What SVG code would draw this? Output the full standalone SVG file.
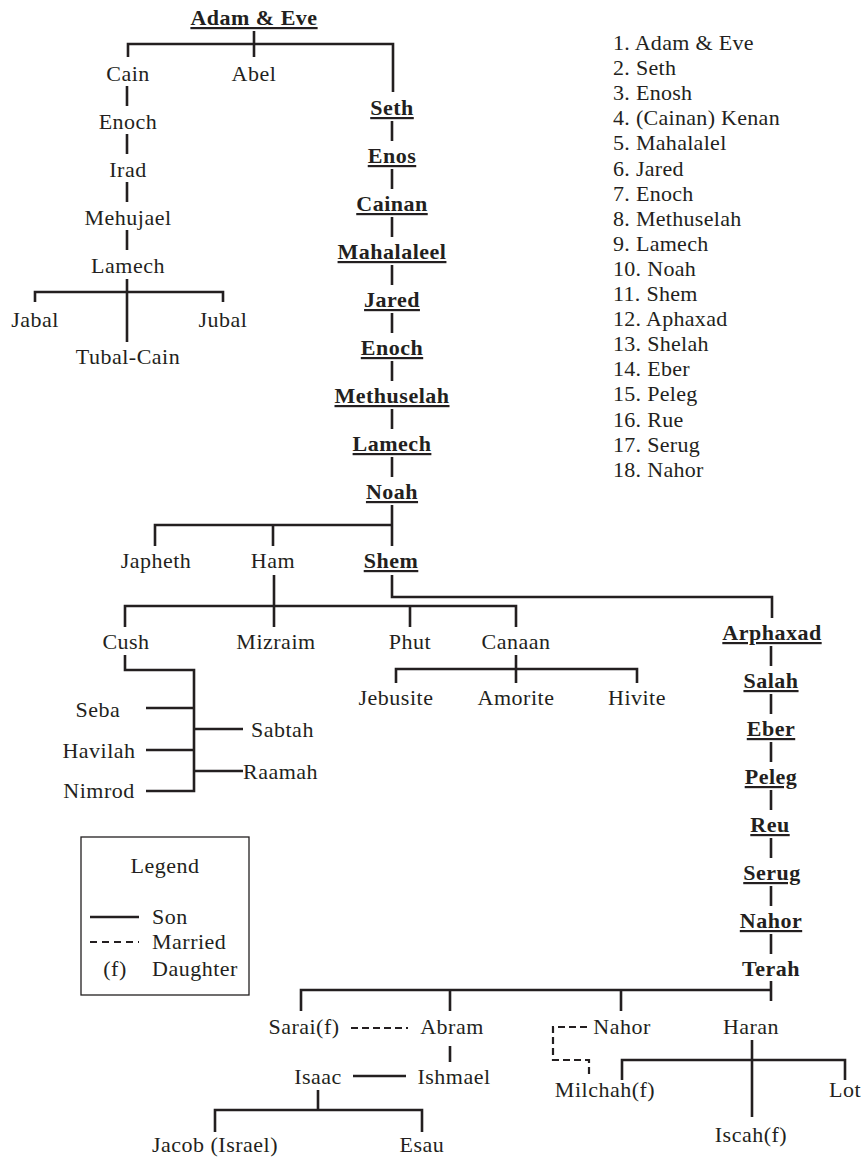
<svg xmlns="http://www.w3.org/2000/svg" width="865" height="1162" viewBox="0 0 865 1162">
<style>
text{font-family:"Liberation Serif","Times New Roman",serif;font-size:22px;fill:#231f20;letter-spacing:0.5px}
.c{text-anchor:middle}
.b{font-weight:bold;text-decoration:underline}
.bt{font-weight:bold}
.ln{fill:none;stroke:#231f20;stroke-width:2.6;stroke-linecap:butt;stroke-linejoin:miter}
.dash{fill:none;stroke:#231f20;stroke-width:2.2;stroke-dasharray:7 4}
.list text{letter-spacing:0.3px}
</style>
<rect width="865" height="1162" fill="#ffffff"/>
<g id="connectors">
<!-- Adam & Eve -->
<path class="ln" d="M254,31 V57 M128,57 V44 H393 V92"/>
<!-- Cain line -->
<path class="ln" d="M127,86 V106 M127,134 V154 M127,182 V202 M127,230 V250"/>
<!-- Lamech (Cain) -->
<path class="ln" d="M127,279 V342 M35,302 V292 H223 V302"/>
<!-- Seth column -->
<path class="ln" d="M392,121 V141 M392,169 V189 M392,217 V237 M392,265 V285 M392,313 V333 M392,361 V381 M392,409 V429 M392,457 V477"/>
<!-- Noah -->
<path class="ln" d="M392,505 V546 M155,546 V525 H392 M273,525 V546"/>
<!-- Shem to Arphaxad -->
<path class="ln" d="M392,575 V597 H772 V618"/>
<!-- Ham -->
<path class="ln" d="M274,575 V627 M125,627 V606 H516 V627 M410,606 V627"/>
<!-- Canaan -->
<path class="ln" d="M516,655 V683 M396,683 V669 H637 V683"/>
<!-- Cush -->
<path class="ln" d="M125,655 V670 H194 V791 H146 M146,708 H194 M146,750 H194 M194,729 H243 M194,771 H243"/>
<!-- Arphaxad column -->
<path class="ln" d="M771,646 V666 M771,694 V714 M771,742 V762 M771,790 V810 M771,838 V858 M771,886 V906 M771,934 V954"/>
<!-- Terah -->
<path class="ln" d="M771,981 V1001 M301,1011 V990 H771 M450,990 V1011 M621,990 V1011"/>
<!-- Sarai married Abram -->
<path class="dash" d="M351,1028 H408"/>
<!-- Abram to Ishmael / Isaac -->
<path class="ln" d="M450,1046 V1062 M353,1076 H406"/>
<!-- Isaac -->
<path class="ln" d="M318,1090 V1110 M215,1132 V1110 H422 V1132"/>
<!-- Nahor married Milchah -->
<path class="dash" d="M587,1027 H553 V1060 H589 V1078"/>
<!-- Haran -->
<path class="ln" d="M752,1040 V1117 M622,1080 V1060 H845 V1080"/>
</g>
<g id="adam-eve"><text class="c b" x="254" y="25">Adam &amp; Eve</text></g>
<g id="cain"><text class="c" x="128" y="81">Cain</text></g>
<g id="abel"><text class="c" x="254" y="81">Abel</text></g>
<g id="enoch-cain"><text class="c" x="128" y="129">Enoch</text></g>
<g id="irad"><text class="c" x="128" y="177">Irad</text></g>
<g id="mehujael"><text class="c" x="128" y="225">Mehujael</text></g>
<g id="lamech-cain"><text class="c" x="128" y="273">Lamech</text></g>
<g id="jabal"><text class="c" x="35" y="327">Jabal</text></g>
<g id="jubal"><text class="c" x="223" y="327">Jubal</text></g>
<g id="tubal-cain"><text class="c" x="128" y="364">Tubal-Cain</text></g>
<g id="seth"><text class="c b" x="392" y="115">Seth</text></g>
<g id="enos"><text class="c b" x="392" y="163">Enos</text></g>
<g id="cainan"><text class="c b" x="392" y="211">Cainan</text></g>
<g id="mahalaleel"><text class="c b" x="392" y="259">Mahalaleel</text></g>
<g id="jared"><text class="c b" x="392" y="307">Jared</text></g>
<g id="enoch"><text class="c b" x="392" y="355">Enoch</text></g>
<g id="methuselah"><text class="c b" x="392" y="403">Methuselah</text></g>
<g id="lamech"><text class="c b" x="392" y="451">Lamech</text></g>
<g id="noah"><text class="c b" x="392" y="499">Noah</text></g>
<g id="japheth"><text class="c" x="156" y="568">Japheth</text></g>
<g id="ham"><text class="c" x="273" y="568">Ham</text></g>
<g id="shem"><text class="c b" x="391" y="568">Shem</text></g>
<g id="cush"><text class="c" x="126" y="649">Cush</text></g>
<g id="mizraim"><text class="c" x="276" y="649">Mizraim</text></g>
<g id="phut"><text class="c" x="410" y="649">Phut</text></g>
<g id="canaan"><text class="c" x="516" y="649">Canaan</text></g>
<g id="jebusite"><text class="c" x="396" y="705">Jebusite</text></g>
<g id="amorite"><text class="c" x="516" y="705">Amorite</text></g>
<g id="hivite"><text class="c" x="637" y="705">Hivite</text></g>
<g id="seba"><text class="c" x="98" y="717">Seba</text></g>
<g id="havilah"><text class="c" x="99" y="758">Havilah</text></g>
<g id="nimrod"><text class="c" x="99" y="798">Nimrod</text></g>
<g id="sabtah"><text x="251" y="737">Sabtah</text></g>
<g id="raamah"><text x="243" y="779">Raamah</text></g>
<g id="arphaxad"><text class="c b" x="772" y="640">Arphaxad</text></g>
<g id="salah"><text class="c b" x="771" y="688">Salah</text></g>
<g id="eber"><text class="c b" x="771" y="736">Eber</text></g>
<g id="peleg"><text class="c b" x="771" y="784">Peleg</text></g>
<g id="reu"><text class="c b" x="770" y="832">Reu</text></g>
<g id="serug"><text class="c b" x="772" y="880">Serug</text></g>
<g id="nahor-shem"><text class="c b" x="771" y="928">Nahor</text></g>
<g id="terah"><text class="c bt" x="771" y="976">Terah</text></g>
<g id="sarai"><text class="c" x="304" y="1034">Sarai(f)</text></g>
<g id="abram"><text class="c" x="452" y="1034">Abram</text></g>
<g id="nahor"><text class="c" x="622" y="1034">Nahor</text></g>
<g id="haran"><text class="c" x="751" y="1034">Haran</text></g>
<g id="isaac"><text class="c" x="318" y="1084">Isaac</text></g>
<g id="ishmael"><text class="c" x="454" y="1084">Ishmael</text></g>
<g id="milchah"><text class="c" x="605" y="1097">Milchah(f)</text></g>
<g id="lot"><text class="c" x="845" y="1097">Lot</text></g>
<g id="iscah"><text class="c" x="751" y="1142">Iscah(f)</text></g>
<g id="jacob"><text class="c" x="215" y="1152">Jacob (Israel)</text></g>
<g id="esau"><text class="c" x="422" y="1152">Esau</text></g>
<g id="legend">
<rect x="81" y="837" width="168" height="158" fill="none" stroke="#231f20" stroke-width="1.3"/>
<text class="c" x="165" y="873">Legend</text>
<line class="ln" x1="90" y1="917" x2="139" y2="917"/>
<text x="152" y="924">Son</text>
<line x1="90" y1="942" x2="139" y2="942" stroke="#231f20" stroke-width="2.2" stroke-dasharray="7 5"/>
<text x="152" y="949">Married</text>
<text class="c" x="115" y="976">(f)</text>
<text x="152" y="976">Daughter</text>
</g>
<g id="list" class="list">
<text x="613" y="50">1. Adam &amp; Eve</text>
<text x="613" y="75">2. Seth</text>
<text x="613" y="100">3. Enosh</text>
<text x="613" y="125">4. (Cainan) Kenan</text>
<text x="613" y="150">5. Mahalalel</text>
<text x="613" y="176">6. Jared</text>
<text x="613" y="201">7. Enoch</text>
<text x="613" y="226">8. Methuselah</text>
<text x="613" y="251">9. Lamech</text>
<text x="613" y="276">10. Noah</text>
<text x="613" y="301">11. Shem</text>
<text x="613" y="326">12. Aphaxad</text>
<text x="613" y="351">13. Shelah</text>
<text x="613" y="376">14. Eber</text>
<text x="613" y="401">15. Peleg</text>
<text x="613" y="427">16. Rue</text>
<text x="613" y="452">17. Serug</text>
<text x="613" y="477">18. Nahor</text>
</g>
</svg>
